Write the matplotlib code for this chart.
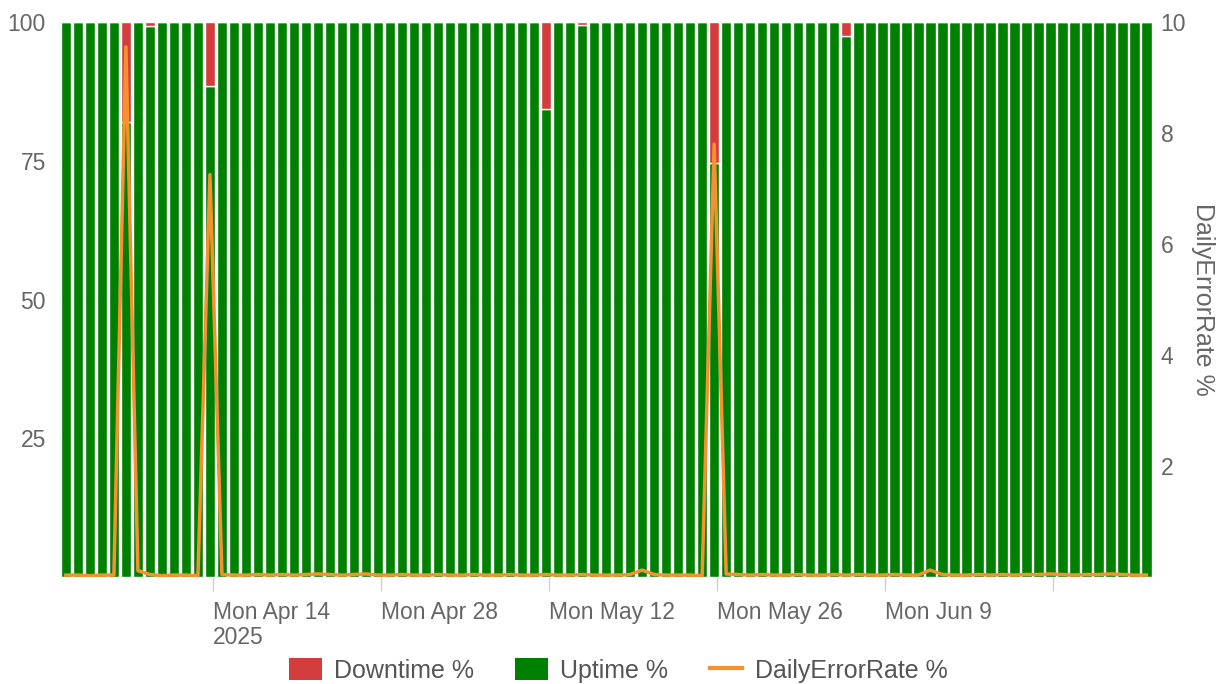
import pandas as pd
import matplotlib
matplotlib.use('Agg')
import matplotlib.pyplot as plt
import matplotlib.transforms as mtransforms
from matplotlib.patches import Patch
from matplotlib.lines import Line2D

plt.rcParams['font.family'] = ['Liberation Sans', 'DejaVu Sans']

# one reading per day, 1 Apr - 30 Jun 2025
days = pd.date_range('2025-04-01 18:00', periods=91, freq='D')

uptime = [100, 100, 100, 100, 100, 82.0, 100, 99.3, 100, 100, 100, 100, 88.5,
          100, 100, 100, 100, 100, 100, 100, 100, 100, 100, 100, 100, 100,
          100, 100, 100, 100, 100, 100, 100, 100, 100, 100, 100, 100, 100,
          100, 84.4, 100, 100, 99.5, 100, 100, 100, 100, 100, 100, 100, 100,
          100, 100, 74.6, 100, 100, 100, 100, 100, 100, 100, 100, 100, 100,
          97.5, 100, 100, 100, 100, 100, 100, 100, 100, 100, 100, 100, 100,
          100, 100, 100, 100, 100, 100, 100, 100, 100, 100, 100, 100, 100]

downtime = [0, 0, 0, 0, 0, 18.0, 0, 0.7, 0, 0, 0, 0, 11.5,
            0, 0, 0, 0, 0, 0, 0, 0, 0, 0, 0, 0, 0,
            0, 0, 0, 0, 0, 0, 0, 0, 0, 0, 0, 0, 0,
            0, 15.6, 0, 0, 0.5, 0, 0, 0, 0, 0, 0, 0, 0,
            0, 0, 25.4, 0, 0, 0, 0, 0, 0, 0, 0, 0, 0,
            2.5, 0, 0, 0, 0, 0, 0, 0, 0, 0, 0, 0, 0,
            0, 0, 0, 0, 0, 0, 0, 0, 0, 0, 0, 0, 0]

error_rate = [0.04, 0.04, 0.03, 0.04, 0.04, 9.55, 0.12, 0.05, 0.03, 0.04, 0.04, 0.03, 7.25,
              0.05, 0.04, 0.04, 0.05, 0.04, 0.05, 0.04, 0.05, 0.06, 0.05, 0.04, 0.05, 0.06,
              0.04, 0.04, 0.05, 0.04, 0.04, 0.05, 0.04, 0.04, 0.05, 0.04, 0.04, 0.05, 0.04,
              0.04, 0.05, 0.04, 0.04, 0.05, 0.04, 0.04, 0.04, 0.05, 0.13, 0.05, 0.04, 0.04,
              0.04, 0.03, 7.8, 0.06, 0.05, 0.04, 0.05, 0.04, 0.04, 0.05, 0.04, 0.04, 0.05,
              0.04, 0.05, 0.04, 0.04, 0.05, 0.04, 0.04, 0.13, 0.05, 0.04, 0.04, 0.05, 0.04,
              0.05, 0.04, 0.05, 0.05, 0.06, 0.05, 0.04, 0.05, 0.05, 0.06, 0.05, 0.04, 0.04]

tick_days = pd.to_datetime(['2025-04-14', '2025-04-28', '2025-05-12',
                            '2025-05-26', '2025-06-09', '2025-06-23'])
tick_labels = ['Mon Apr 14\n2025', 'Mon Apr 28', 'Mon May 12',
               'Mon May 26', 'Mon Jun 9', '']

green = '#008000'
red = '#d43d3d'
orange = '#f5922f'
grey = '#666666'

fig = plt.figure(figsize=(12.22, 6.84), dpi=100)
ax = fig.add_axes([0.049, 0.156, 0.894, 0.812])

# stacked daily bars
ax.bar(days, uptime, width=0.88, color=green, edgecolor='white', linewidth=1)
ax.bar(days, downtime, width=0.88, bottom=uptime, color=red, edgecolor='white', linewidth=1)

ax.set_ylim(0, 100)
ax.set_yticks([25, 50, 75, 100])
ax.set_xlim(days[0] - pd.Timedelta(hours=12), days[-1] + pd.Timedelta(hours=12))
ax.set_xticks(tick_days)
ax.set_xticklabels(tick_labels, linespacing=1.1)
# labels start just right of their tick
shift = mtransforms.ScaledTranslation(3 / 72, 0, fig.dpi_scale_trans)
for lab in ax.get_xticklabels():
    lab.set_horizontalalignment('left')
    lab.set_transform(lab.get_transform() + shift)
ax.yaxis.grid(True, color='#e3e3e3', linewidth=1)
ax.set_axisbelow(True)
ax.tick_params(axis='y', length=0, pad=10, labelsize=16.5, labelcolor=grey)
ax.tick_params(axis='x', length=10, width=1, color='#d0d0d0', pad=7, labelsize=16.5, labelcolor=grey)
for s in ax.spines.values():
    s.set_visible(False)

# error rate on the right axis
ax2 = ax.twinx()
ax2.plot(days, error_rate, color=orange, linewidth=2.5)
ax2.set_ylim(0, 10)
ax2.set_yticks([2, 4, 6, 8, 10])
ax2.tick_params(axis='y', length=0, pad=6, labelsize=16.5, labelcolor=grey)
ax2.set_ylabel('DailyErrorRate %', rotation=270, labelpad=21, fontsize=18, color=grey)
for s in ax2.spines.values():
    s.set_visible(False)

handles = [Patch(facecolor=red, edgecolor='none', label='Downtime %'),
           Patch(facecolor=green, edgecolor='none', label='Uptime %'),
           Line2D([0], [0], color=orange, linewidth=3, label='DailyErrorRate %')]
fig.legend(handles=handles, loc='center', bbox_to_anchor=(0.506, 0.02), ncol=3,
           frameon=False, fontsize=18, labelcolor='#555555', handlelength=1.3,
           handleheight=1.0, handletextpad=0.5, columnspacing=1.65)

fig.savefig('out.png', dpi=100)
